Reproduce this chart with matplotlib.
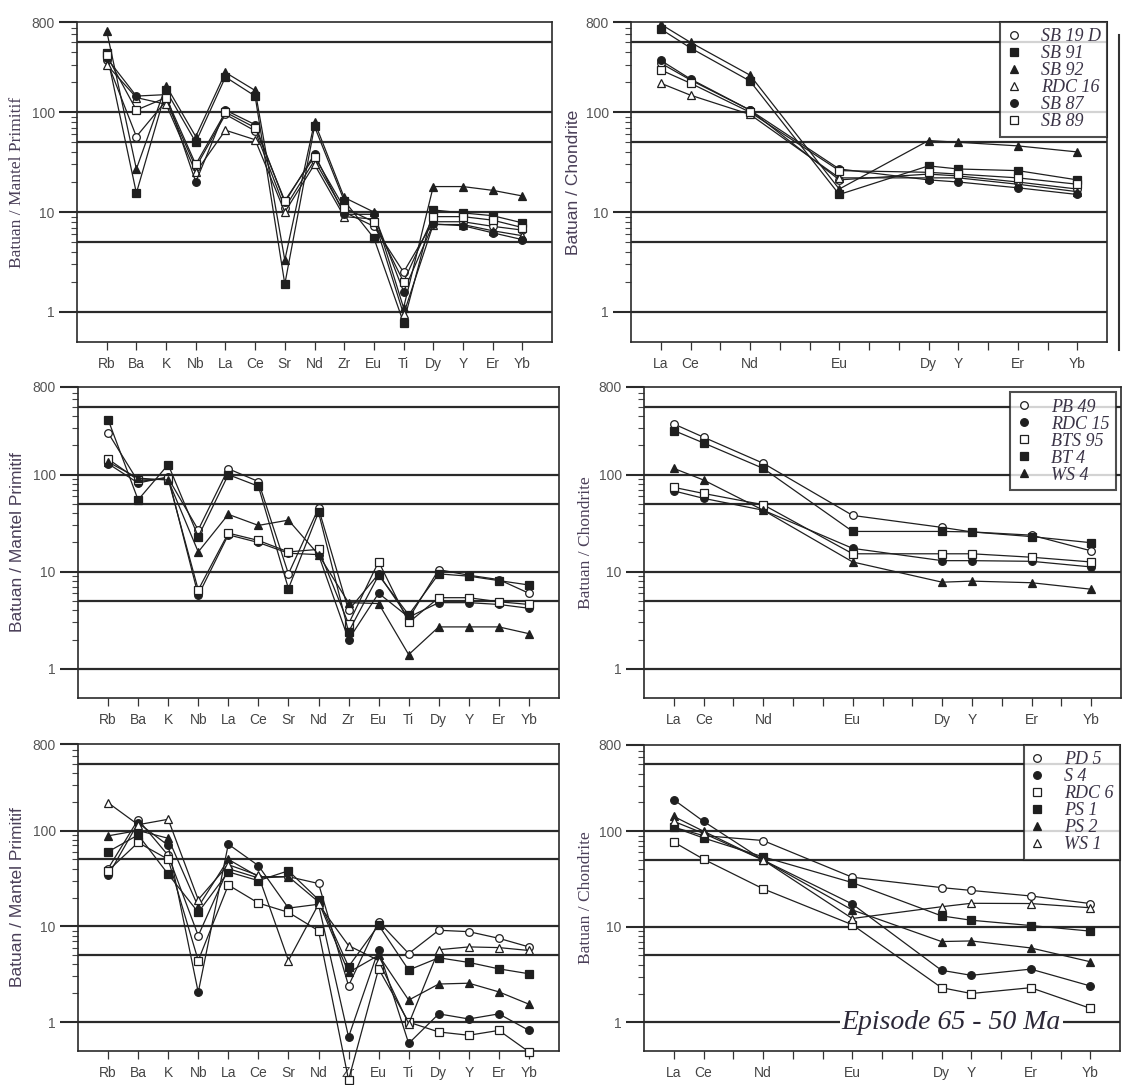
import numpy as np
import matplotlib.pyplot as plt
from matplotlib.lines import Line2D
from matplotlib.ticker import FixedLocator, NullFormatter

# Elements (x axis)
spider_el = ['Rb', 'Ba', 'K', 'Nb', 'La', 'Ce', 'Sr', 'Nd', 'Zr', 'Eu', 'Ti', 'Dy', 'Y', 'Er', 'Yb']
ree_el = ['La', 'Ce', 'Nd', 'Eu', 'Dy', 'Y', 'Er', 'Yb']
ree_pos = [0, 1, 3, 6, 9, 10, 12, 14]

# Row 1 samples
row1_samples = ['SB 19 D', 'SB 91', 'SB 92', 'RDC 16', 'SB 87', 'SB 89']
row1_mantle = [
    [330, 57, 130, 28, 95, 65, 11, 33, 10, 7.2, 2.5, 8.0, 8.0, 7.2, 6.6],
    [390, 15.5, 165, 50, 225, 145, 1.9, 72, 13, 5.5, 0.78, 10.5, 9.8, 9.2, 7.8],
    [650, 27, 185, 57, 250, 165, 3.3, 80, 14, 10, 1.1, 18, 18, 16.5, 14.5],
    [300, 140, 120, 25, 66, 53, 10, 30, 9, 8.5, 0.95, 7.5, 7.5, 6.5, 5.8],
    [350, 145, 150, 20, 105, 75, 12.5, 38, 9.5, 9.5, 1.6, 7.6, 7.3, 6.2, 5.3],
    [370, 105, 140, 30, 100, 70, 13, 36, 11, 8.0, 2.0, 9.0, 9.0, 8.3, 7.0],
]
row1_chond = [
    [310, 210, 105, 21, 24, 23, 20, 17],
    [680, 440, 205, 15, 29, 27, 26, 21],
    [760, 500, 235, 17, 52, 50, 46, 40],
    [195, 148, 95, 22, 22, 22, 19, 16],
    [330, 215, 105, 27, 21, 20, 17.5, 15],
    [265, 195, 100, 26, 25, 24, 22, 19],
]

# Row 2 samples
row2_samples = ['PB 49', 'RDC 15', 'BTS 95', 'BT 4', 'WS 4']
row2_mantle = [
    [270, 85, 92, 27, 115, 85, 9.5, 45, 4.0, 9.5, 3.3, 10.5, 9.2, 8.3, 6.0],
    [130, 82, 95, 5.7, 24, 20, 15.5, 15, 2.0, 6.0, 3.4, 4.8, 4.8, 4.6, 4.2],
    [145, 88, 90, 6.5, 25, 21, 16, 17, 2.9, 12.7, 3.0, 5.4, 5.4, 4.9, 4.6],
    [370, 55, 127, 23, 100, 76, 6.7, 41, 2.4, 9.2, 3.6, 9.5, 9.0, 8.1, 7.3],
    [135, 92, 88, 16, 39, 30, 34, 15, 4.8, 4.7, 1.4, 2.7, 2.7, 2.7, 2.3],
]
row2_chond = [
    [333, 243, 131, 38, 28.6, 25.7, 23.8, 16.4],
    [68, 57, 43, 17.4, 13, 13, 12.8, 11.2],
    [74, 64, 49, 15.3, 15.3, 15.3, 14.1, 12.6],
    [285, 212, 116, 26, 26, 25.7, 23, 19.9],
    [116, 88, 43, 12.6, 7.8, 8.0, 7.7, 6.6],
]

# Row 3 samples
row3_samples = ['PD 5', 'S 4', 'RDC 6', 'PS 1', 'PS 2', 'WS 1']
row3_mantle = [
    [40, 130, 55, 8, 40, 32, 33, 28, 2.4, 11.2, 5.2, 9.1, 8.8, 7.5, 6.1],
    [34, 120, 70, 2.05, 72, 43, 15.5, 17, 0.7, 5.7, 0.6, 1.22, 1.08, 1.22, 0.82],
    [38, 75, 50, 4.4, 27, 17.5, 14, 9, 0.25, 3.6, 1.0, 0.79, 0.73, 0.82, 0.49],
    [60, 90, 35, 14, 37, 30, 38, 19, 3.8, 10.3, 3.5, 4.7, 4.2, 3.6, 3.2],
    [88, 100, 83, 16, 50, 33, 33, 18, 3.3, 5.0, 1.7, 2.5, 2.55, 2.07, 1.54],
    [195, 115, 131, 19, 44, 34, 4.4, 17, 6.3, 4.4, 0.96, 5.7, 6.1, 6.0, 5.6],
]
row3_chond = [
    [110, 90, 80, 33, 25.7, 24, 21, 17.5],
    [214, 127, 50, 17.3, 3.5, 3.1, 3.6, 2.4],
    [77, 51, 25, 10.5, 2.3, 2.0, 2.3, 1.4],
    [110, 85, 54, 29, 13, 11.7, 10.3, 9.0],
    [143, 100, 50, 15, 7.0, 7.1, 6.0, 4.3],
    [127, 95, 50, 12.2, 16.2, 17.6, 17.5, 15.8],
]

# marker styles (marker, filled)
row1_style = [('o', False), ('s', True), ('^', True), ('^', False), ('o', True), ('s', False)]
row2_style = [('o', False), ('o', True), ('s', False), ('s', True), ('^', True)]
row3_style = [('o', False), ('o', True), ('s', False), ('s', True), ('^', True), ('^', False)]

grid_levels = [1, 5, 10, 50, 100, 500]
INK = '#1f1f1f'
LABEL_C = '#4a3f58'
SANS = 'Liberation Sans'
SERIF = 'Liberation Serif'

W, H = 1132, 1085
fig = plt.figure(figsize=(W / 100, H / 100), dpi=100)


def box(l, t, r, b):
    return [l / W, 1 - b / H, (r - l) / W, (b - t) / H]


def setup(ax, ylabel, yfont, labels, pos, lx=-0.11):
    ax.set_yscale('log')
    ax.set_ylim(0.5, 800)
    ax.set_xlim(-1, 15)
    for v in grid_levels:
        ax.axhline(v, color='#2a2a2a', lw=1.6, zorder=1)
    ax.yaxis.set_major_locator(FixedLocator([1, 10, 100, 800]))
    ax.yaxis.set_major_formatter(plt.FixedFormatter(['1', '10', '100', '800']))
    minors = [m * 10 ** e for e in (0, 1, 2) for m in range(2, 10) if m * 10 ** e < 800]
    ax.yaxis.set_minor_locator(FixedLocator(minors))
    ax.yaxis.set_minor_formatter(NullFormatter())
    ax.tick_params(axis='y', which='major', direction='out', length=13, width=1.5,
                   pad=3, labelsize=10, labelcolor='#555555', color='#2a2a2a')
    ax.tick_params(axis='y', which='minor', direction='out', length=4, width=0.8, color='#444444')
    ax.set_xticks(range(15))
    xl = [''] * 15
    for p, lab in zip(pos, labels):
        xl[p] = lab
    ax.set_xticklabels(xl)
    ax.tick_params(axis='x', direction='out', length=6, width=0.9, pad=5,
                   labelsize=10, labelcolor='#444444', color='#333333')
    for lab in ax.get_xticklabels() + ax.get_yticklabels():
        lab.set_fontfamily(SANS)
    for s in ax.spines.values():
        s.set_color('#2a2a2a')
        s.set_linewidth(1.2)
    ax.set_ylabel(ylabel, family=yfont, fontsize=12.5, color=LABEL_C)
    ax.yaxis.set_label_coords(lx, 0.5)


def draw(ax, data, xs, styles, clip=True):
    for vals, (mk, filled) in zip(data, styles):
        ax.plot(xs, vals, color=INK, lw=0.9, marker=mk, ms=5.5,
                mfc=INK if filled else 'white', mec=INK, mew=0.9,
                zorder=3, clip_on=clip)


def legend(ax, names, styles, pad=0.0):
    handles = [Line2D([], [], ls='none', marker=mk, ms=5.5, color=INK,
                      mfc=INK if f else 'white', mec=INK, mew=0.9) for mk, f in styles]
    lg = ax.legend(handles, names, loc='upper right', borderaxespad=pad,
                   frameon=True, fancybox=False, handlelength=0.8,
                   handletextpad=1.1, labelspacing=0.0, borderpad=0.35,
                   prop={'family': SERIF, 'style': 'italic', 'size': 13})
    lg.get_frame().set_edgecolor('#222222')
    lg.get_frame().set_linewidth(1.5)
    for t in lg.get_texts():
        t.set_color('#3a3346')
    lg.set_zorder(5)


spider_x = list(range(15))

# Row 1
ax1 = fig.add_axes(box(77, 22, 552, 342))
setup(ax1, 'Batuan / Mantel Primitif', SERIF, spider_el, spider_x)
draw(ax1, row1_mantle, spider_x, row1_style)

ax2 = fig.add_axes(box(631, 22, 1107, 342))
setup(ax2, 'Batuan / Chondrite', SANS, ree_el, ree_pos, lx=-0.105)
draw(ax2, row1_chond, ree_pos, row1_style)
legend(ax2, row1_samples, row1_style)

# Row 2
ax3 = fig.add_axes(box(78, 387, 559, 698))
setup(ax3, 'Batuan / Mantel Primitif', SANS, spider_el, spider_x)
draw(ax3, row2_mantle, spider_x, row2_style)

ax4 = fig.add_axes(box(644, 387, 1121, 698))
setup(ax4, 'Batuan / Chondrite', SERIF, ree_el, ree_pos, lx=-0.105)
draw(ax4, row2_chond, ree_pos, row2_style)
legend(ax4, row2_samples, row2_style, pad=0.3)

# Row 3
ax5 = fig.add_axes(box(78, 744, 559, 1051))
setup(ax5, 'Batuan / Mantel Primitif', SANS, spider_el, spider_x)
draw(ax5, row3_mantle, spider_x, row3_style, clip=False)

ax6 = fig.add_axes(box(644, 745, 1120, 1051))
setup(ax6, 'Batuan / Chondrite', SERIF, ree_el, ree_pos, lx=-0.105)
draw(ax6, row3_chond, ree_pos, row3_style)
legend(ax6, row3_samples, row3_style)

ax6.text(0.415, 1.0, 'Episode 65 - 50 Ma', transform=ax6.get_yaxis_transform(which='grid'),
         family=SERIF, style='italic', fontsize=20, color='#2c2838', va='center', ha='left',
         zorder=4, bbox=dict(facecolor='white', edgecolor='none', pad=1.5))

# scan edge line next to the top-right panel
fig.add_artist(Line2D([1119 / W, 1119 / W], [1 - 35 / H, 1 - 350 / H], color='#333333', lw=1.5))

fig.savefig('out.png', dpi=100)
